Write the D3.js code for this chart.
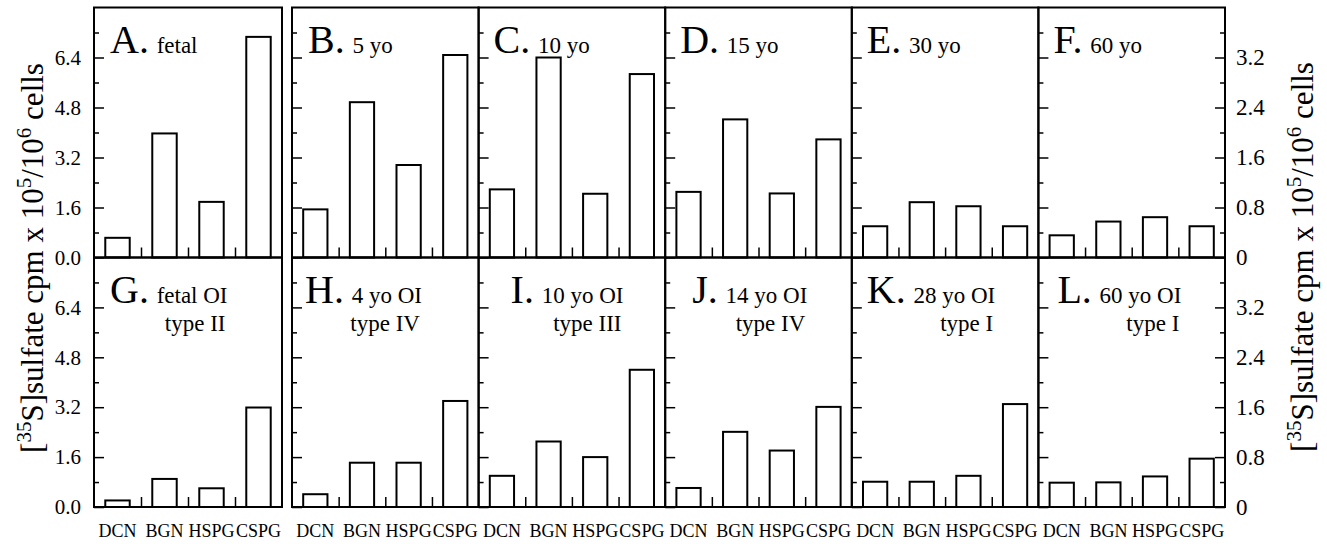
<!DOCTYPE html>
<html><head><meta charset="utf-8">
<script src="https://cdn.jsdelivr.net/npm/d3@7"></script>
<style>
body{margin:0;background:#fff}
svg{display:block}
svg text{font-family:"Liberation Serif","Times New Roman","Tinos","DejaVu Serif",serif !important;fill:#000}
</style>
</head><body><svg id="c" width="1327" height="544" style="font-family:'Liberation Serif','Times New Roman',serif"></svg>
<script>
// ---- data ----
const categories = ["DCN", "BGN", "HSPG", "CSPG"];
const panelLetters = ["A", "B", "C", "D", "E", "F", "G", "H", "I", "J", "K", "L"];
const panelLine1 = ["fetal", "5 yo", "10 yo", "15 yo", "30 yo", "60 yo",
                    "fetal OI", "4 yo OI", "10 yo OI", "14 yo OI", "28 yo OI", "60 yo OI"];
const panelLine2 = ["", "", "", "", "", "",
                    "type II", "type IV", "type III", "type IV", "type I", "type I"];
const valuesA = [0.63, 3.97, 1.78, 7.06];
const valuesB = [1.54, 4.97, 2.96, 6.48];
const valuesC = [2.18, 6.40, 2.04, 5.87];
const valuesD = [2.10, 4.42, 2.05, 3.78];
const valuesE = [1.00, 1.77, 1.64, 1.00];
const valuesF = [0.71, 1.15, 1.29, 1.00];
const valuesG = [0.21, 0.90, 0.60, 3.19];
const valuesH = [0.41, 1.42, 1.42, 3.40];
const valuesI = [1.00, 2.10, 1.60, 4.40];
const valuesJ = [0.61, 2.41, 1.81, 3.21];
const valuesK = [0.81, 0.81, 1.00, 3.30];
const valuesL = [0.78, 0.79, 0.98, 1.55];
const leftTickValues = [0, 1.6, 3.2, 4.8, 6.4];
const leftTickLabels = ["0.0", "1.6", "3.2", "4.8", "6.4"];
const leftMinorValues = [0.8, 2.4, 4.0, 5.6, 7.2];
const rightTickValues = [0, 0.8, 1.6, 2.4, 3.2];
const rightTickLabels = ["0", "0.8", "1.6", "2.4", "3.2"];
const rightMinorValues = [0.4, 1.2, 2.0, 2.8, 3.6];

const allValues = [valuesA, valuesB, valuesC, valuesD, valuesE, valuesF,
                   valuesG, valuesH, valuesI, valuesJ, valuesK, valuesL];

// ---- layout ----
const svg = d3.select("#c");
const rowTop = [7.5, 257.5], rowBase = [257.5, 507];
const firstX = [94, 282], restStart = 292, restEnd = 1225, panelW = (restEnd - restStart) / 5;
const titleDx = [16, 16, 15, 15, 15, 15, 16, 13, 32, 27, 15, 19];

function panelX(col) {
  if (col === 0) return firstX;
  const x0 = restStart + (col - 1) * panelW;
  return [x0, x0 + panelW];
}
function clean(a) { a.attr("font-family", null).attr("font-size", null); a.select(".domain").remove(); return a; }

allValues.forEach((vals, i) => {
  const row = i < 6 ? 0 : 1, col = i % 6;
  const [x0, x1] = panelX(col);
  const y = d3.scaleLinear().domain([0, 8]).range([rowBase[row], rowTop[row]]);
  const x = d3.scaleBand().domain(categories).range([x0, x1]).paddingInner(0.48).paddingOuter(0.24);
  const xl = d3.scaleLinear().domain([0, categories.length]).range([x0, x1]);
  const g = svg.append("g");

  g.selectAll("rect.bar").data(vals).join("rect")
    .attr("class", "bar")
    .attr("x", (d, k) => x(categories[k]))
    .attr("width", x.bandwidth())
    .attr("y", d => y(d))
    .attr("height", d => y(0) - y(d))
    .attr("fill", "#fff").attr("stroke", "#000").attr("stroke-width", 2);

  const maj = clean(g.append("g").attr("transform", `translate(${x0},0)`)
    .call(d3.axisRight(y).tickValues(leftTickValues).tickSize(10).tickFormat("")));
  const mn = clean(g.append("g").attr("transform", `translate(${x0},0)`)
    .call(d3.axisRight(y).tickValues(leftMinorValues).tickSize(5).tickFormat("")));
  [maj, mn].forEach(a => a.selectAll("line").attr("stroke-width", 1.5));

  const bt = clean(g.append("g").attr("transform", `translate(0,${rowBase[row]})`)
    .call(d3.axisTop(xl).tickValues([1, 2, 3]).tickSize(10).tickFormat("")));
  bt.selectAll("line").attr("stroke-width", 1.5);

  if (col === 0) {
    const la = clean(g.append("g").attr("transform", `translate(${x0},0)`)
      .call(d3.axisLeft(y).tickValues(leftTickValues).tickSize(0).tickPadding(13)
        .tickFormat((d, k) => leftTickLabels[k])));
    la.selectAll("text").attr("font-size", 21);
  }
  if (col === 5) {
    const yr = d3.scaleLinear().domain([0, 4]).range([rowBase[row], rowTop[row]]);
    const ra = clean(g.append("g").attr("transform", `translate(${x1},0)`)
      .call(d3.axisLeft(yr).tickValues(rightTickValues).tickSize(10).tickFormat("")));
    const rm = clean(g.append("g").attr("transform", `translate(${x1},0)`)
      .call(d3.axisLeft(yr).tickValues(rightMinorValues).tickSize(5).tickFormat("")));
    [ra, rm].forEach(a => a.selectAll("line").attr("stroke-width", 1.5));
    const rl = clean(g.append("g").attr("transform", `translate(${x1},0)`)
      .call(d3.axisRight(yr).tickValues(rightTickValues).tickSize(0).tickPadding(11)
        .tickFormat((d, k) => rightTickLabels[k])));
    rl.selectAll("text").attr("font-size", 23);
  }
  if (row === 1) {
    const xa = clean(g.append("g").attr("transform", `translate(0,${rowBase[row]})`)
      .call(d3.axisBottom(x).tickSize(0).tickPadding(17)));
    xa.selectAll("text").attr("font-size", 18);
  }

  g.append("rect").attr("x", x0).attr("y", rowTop[row])
    .attr("width", x1 - x0).attr("height", rowBase[row] - rowTop[row])
    .attr("fill", "none").attr("stroke", "#000").attr("stroke-width", 2);

  const tx = x0 + titleDx[i], ty = rowTop[row] + 45;
  const t = g.append("text").attr("x", tx).attr("y", ty);
  t.append("tspan").attr("font-size", 40).text(panelLetters[i] + ".");
  t.append("tspan").attr("font-size", 23).attr("dx", 2).text(" " + panelLine1[i]);
  if (panelLine2[i]) {
    const w = t.node().getComputedTextLength();
    g.append("text").attr("x", tx + w).attr("y", ty + 28).attr("text-anchor", "end")
      .attr("font-size", 23).text(panelLine2[i]);
  }
});

function yTitle(xb, yc) {
  const t = svg.append("text").attr("transform", `translate(${xb},${yc}) rotate(-90)`)
    .attr("text-anchor", "middle").attr("font-size", 31);
  t.append("tspan").text("[");
  t.append("tspan").attr("font-size", 21).attr("dy", -12).text("35");
  t.append("tspan").attr("dy", 12).text("S]sulfate cpm x 10");
  t.append("tspan").attr("font-size", 21).attr("dy", -12).text("5");
  t.append("tspan").attr("dy", 12).text("/10");
  t.append("tspan").attr("font-size", 21).attr("dy", -12).text("6");
  t.append("tspan").attr("dy", 12).text(" cells");
}
yTitle(43, 258);
yTitle(1313, 257);
</script>
</body></html>
